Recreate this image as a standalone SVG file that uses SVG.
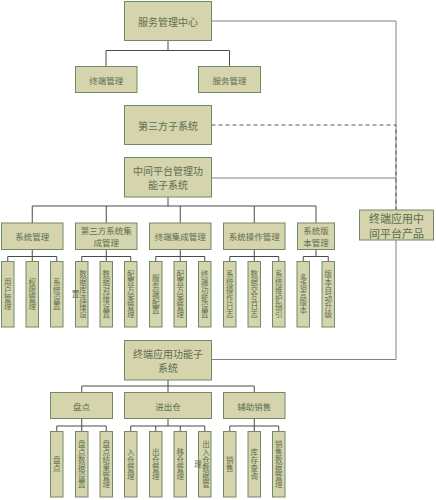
<svg xmlns="http://www.w3.org/2000/svg" width="436" height="500" viewBox="0 0 436 500">
<style>
.box{fill:#d5d4ac;stroke:#6e8c68;stroke-width:1}
.t{font-family:"Noto Sans CJK SC","Noto Sans",sans-serif;fill:#5c6e50;text-anchor:middle;dominant-baseline:central}
.f10{font-size:10px}
.f11{font-size:11px}
.f9{font-size:8.5px}
.v{font-family:"Noto Sans CJK SC","Noto Sans",sans-serif;fill:#5c6e50;text-anchor:middle;dominant-baseline:central;writing-mode:vertical-rl;font-size:7.5px;letter-spacing:0.5px}
.c{stroke:#4a4a4a;fill:none;stroke-width:1}
.r{stroke:#808080;fill:none;stroke-width:1}
.d{stroke:#5a5a5a;fill:none;stroke-width:1;stroke-dasharray:4 3}
</style>
<rect width="436" height="500" fill="#ffffff"/>
<g id="connectors">
<path class="c" d="M168 40.5V50.5M106 50.5H229.5M106 50.5V66.5M229.5 50.5V66.5"/>
<path class="r" d="M211.5 21H396V210M211.5 178H396M396 240V359.5H211.5"/>
<path class="d" d="M211.5 125H396V210"/>
<path class="c" d="M168 197V206M32.25 206H316M32.25 206V223M106.25 206V223M180.25 206V223M254.25 206V223M316 206V223"/>
<path class="c" d="M32.25 249.5V256.5M7.75 256.5H56.75M7.75 256.5V261.5M32.25 256.5V261.5M56.75 256.5V261.5"/>
<path class="c" d="M106.25 249.5V256.5M81.75 256.5H130.75M81.75 256.5V261.5M106.25 256.5V261.5M130.75 256.5V261.5"/>
<path class="c" d="M180.25 249.5V256.5M155.75 256.5H204.75M155.75 256.5V261.5M180.25 256.5V261.5M204.75 256.5V261.5"/>
<path class="c" d="M254.25 249.5V256.5M229.75 256.5H278.75M229.75 256.5V261.5M254.25 256.5V261.5M278.75 256.5V261.5"/>
<path class="c" d="M316 249.5V256.5M303.25 256.5H328.25M303.25 256.5V261.5M328.25 256.5V261.5"/>
<path class="c" d="M168 380V386M81.75 386H254.25M81.75 386V392.5M168 386V392.5M254.25 386V392.5"/>
<path class="c" d="M81.75 418.5V426M56.75 426H106.25M56.75 426V431.5M81.75 426V431.5M106.25 426V431.5"/>
<path class="c" d="M168 418.5V426M130.75 426H204.75M130.75 426V431.5M155.75 426V431.5M180.25 426V431.5M204.75 426V431.5"/>
<path class="c" d="M254.25 418.5V426M229.75 426H278.75M229.75 426V431.5M254.25 426V431.5M278.75 426V431.5"/>
</g>
<g id="n-service-center"><rect class="box" x="124.5" y="1.5" width="87" height="39"/><text class="t f10" x="168" y="21">服务管理中心</text></g>
<g id="n-terminal-mgmt"><rect class="box" x="75.5" y="66.5" width="61.5" height="26"/><text class="t f9" x="106.25" y="79.5">终端管理</text></g>
<g id="n-service-mgmt"><rect class="box" x="198.5" y="66.5" width="62" height="26"/><text class="t f9" x="229.5" y="79.5">服务管理</text></g>
<g id="n-third-party"><rect class="box" x="124.5" y="105.5" width="87" height="39"/><text class="t f10" x="168" y="125">第三方子系统</text></g>
<g id="n-middle-platform"><rect class="box" x="124.5" y="157.5" width="87" height="39.5"/><text class="t f10"><tspan x="168" y="170.4">中间平台管理功</tspan><tspan x="168" y="184.1">能子系统</tspan></text></g>
<g id="n-platform-product"><rect class="box" x="359.5" y="210" width="74" height="30"/><text class="t f11"><tspan x="396.5" y="217.5">终端应用中</tspan><tspan x="396.5" y="232.5">间平台产品</tspan></text></g>

<g id="n-sys-mgmt"><rect class="box" x="1.5" y="223" width="61.5" height="26.5"/><text class="t f9" x="32.25" y="236">系统管理</text></g>
<g id="n-3p-integration"><rect class="box" x="75.5" y="223" width="61.5" height="26.5"/><text class="t f9"><tspan x="106.25" y="230">第三方系统集</tspan><tspan x="106.25" y="241.5">成管理</tspan></text></g>
<g id="n-terminal-integration"><rect class="box" x="149.5" y="223" width="61.5" height="26.5"/><text class="t f9" x="180.25" y="236">终端集成管理</text></g>
<g id="n-sys-operation"><rect class="box" x="223.5" y="223" width="61.5" height="26.5"/><text class="t f9" x="254.25" y="236">系统操作管理</text></g>
<g id="n-sys-version"><rect class="box" x="297.5" y="223" width="37" height="26.5"/><text class="t f9"><tspan x="316" y="230">系统版</tspan><tspan x="316" y="241.5">本管理</tspan></text></g>

<g id="n-user-mgmt"><rect class="box" x="1.5" y="261.5" width="12.5" height="65.5"/><text class="v" x="7.75" y="294.5">用户管理</text></g>
<g id="n-perm-mgmt"><rect class="box" x="26" y="261.5" width="12.5" height="65.5"/><text class="v" x="32.25" y="294.5">权限管理</text></g>
<g id="n-sys-settings"><rect class="box" x="50.5" y="261.5" width="12.5" height="65.5"/><text class="v" x="56.75" y="294.5">系统设置</text></g>
<g id="n-db-conn"><rect class="box" x="75.5" y="261.5" width="12.5" height="65.5"/><text class="v" x="83" y="294.5">数据库连接设</text><text class="v" x="75.5" y="294.5">置</text></g>
<g id="n-data-dock"><rect class="box" x="100" y="261.5" width="12.5" height="65.5"/><text class="v" x="106.25" y="294.5">数据对接设置</text></g>
<g id="n-config-plan-1"><rect class="box" x="124.5" y="261.5" width="12.5" height="65.5"/><text class="v" x="130.75" y="294.5">配置方案管理</text></g>
<g id="n-server-config"><rect class="box" x="149.5" y="261.5" width="12.5" height="65.5"/><text class="v" x="155.75" y="294.5">服务端配置</text></g>
<g id="n-config-plan-2"><rect class="box" x="174" y="261.5" width="12.5" height="65.5"/><text class="v" x="180.25" y="294.5">配置方案管理</text></g>
<g id="n-terminal-func"><rect class="box" x="198.5" y="261.5" width="12.5" height="65.5"/><text class="v" x="204.75" y="294.5">终端功能设置</text></g>
<g id="n-op-log"><rect class="box" x="223.5" y="261.5" width="12.5" height="65.5"/><text class="v" x="229.75" y="294.5">系统操作日志</text></g>
<g id="n-data-log"><rect class="box" x="248" y="261.5" width="12.5" height="65.5"/><text class="v" x="254.25" y="294.5">数据交互日志</text></g>
<g id="n-maint-guide"><rect class="box" x="272.5" y="261.5" width="12.5" height="65.5"/><text class="v" x="278.75" y="294.5">系统维护指引</text></g>
<g id="n-multi-lang"><rect class="box" x="297" y="261.5" width="12.5" height="65.5"/><text class="v" x="303.25" y="294.5">多语言版本</text></g>
<g id="n-auto-upgrade"><rect class="box" x="322" y="261.5" width="12.5" height="65.5"/><text class="v" x="328.25" y="294.5">版本自动升级</text></g>

<g id="n-terminal-app"><rect class="box" x="124.5" y="340.5" width="87" height="39.5"/><text class="t f10"><tspan x="168" y="353.4">终端应用功能子</tspan><tspan x="168" y="367.1">系统</tspan></text></g>
<g id="n-inventory"><rect class="box" x="50.5" y="392.5" width="62" height="26"/><text class="t f9" x="81.5" y="405.5">盘点</text></g>
<g id="n-warehouse"><rect class="box" x="124.5" y="392.5" width="87" height="26"/><text class="t f9" x="168" y="405.5">进出仓</text></g>
<g id="n-sales-aid"><rect class="box" x="223.5" y="392.5" width="61.5" height="26"/><text class="t f9" x="254.25" y="405.5">辅助销售</text></g>

<g id="n-count"><rect class="box" x="50.5" y="431.5" width="12.5" height="65.5"/><text class="v" x="56.75" y="464.5">盘点</text></g>
<g id="n-count-data"><rect class="box" x="75.5" y="431.5" width="12.5" height="65.5"/><text class="v" x="81.75" y="464.5">盘点数据设置</text></g>
<g id="n-count-result"><rect class="box" x="100" y="431.5" width="12.5" height="65.5"/><text class="v" x="106.25" y="464.5">盘点结果管理</text></g>
<g id="n-in-stock"><rect class="box" x="124.5" y="431.5" width="12.5" height="65.5"/><text class="v" x="130.75" y="464.5">入仓管理</text></g>
<g id="n-out-stock"><rect class="box" x="149.5" y="431.5" width="12.5" height="65.5"/><text class="v" x="155.75" y="464.5">出仓管理</text></g>
<g id="n-move-stock"><rect class="box" x="174" y="431.5" width="12.5" height="65.5"/><text class="v" x="180.25" y="464.5">移仓管理</text></g>
<g id="n-stock-data"><rect class="box" x="198.5" y="431.5" width="12.5" height="65.5"/><text class="v" x="206" y="464.5">出入仓数据管</text><text class="v" x="198" y="464.5">理</text></g>
<g id="n-sales"><rect class="box" x="223.5" y="431.5" width="12.5" height="65.5"/><text class="v" x="229.75" y="464.5">销售</text></g>
<g id="n-stock-query"><rect class="box" x="248" y="431.5" width="12.5" height="65.5"/><text class="v" x="254.25" y="464.5">库存查询</text></g>
<g id="n-sales-data"><rect class="box" x="272.5" y="431.5" width="12.5" height="65.5"/><text class="v" x="278.75" y="464.5">销售数据管理</text></g>
</svg>
